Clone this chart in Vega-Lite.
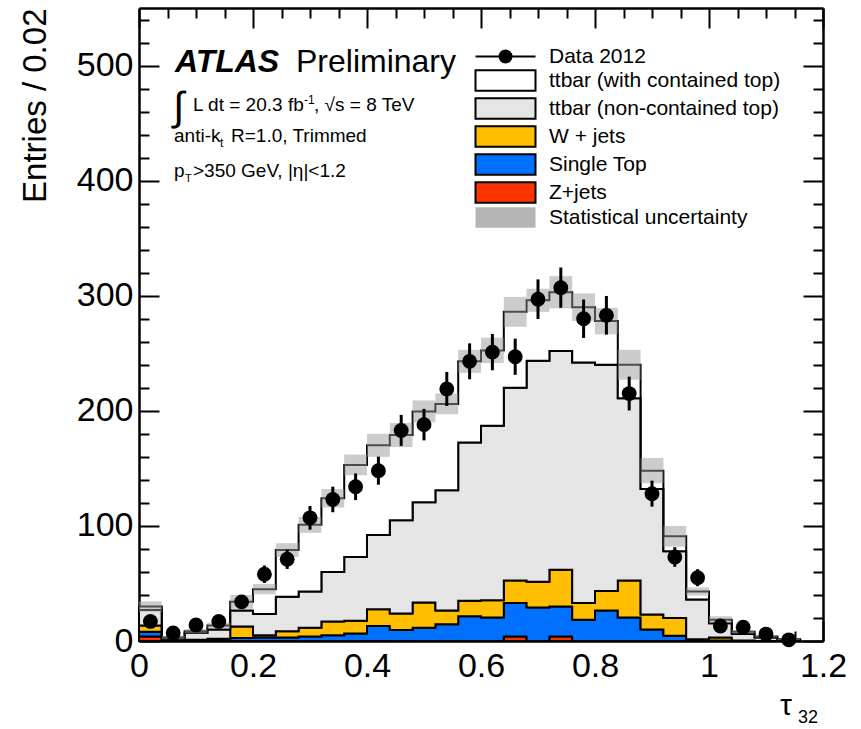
{
  "$schema": "https://vega.github.io/schema/vega-lite/v6.json",
  "width": 684,
  "height": 633,
  "autosize": {"type": "none"},
  "padding": {"left": 139, "top": 8, "right": 38, "bottom": 88},
  "background": "white",
  "config": {
    "font": "Liberation Sans",
    "view": {"stroke": null},
    "axis": {"grid": false, "zindex": 1, "tickColor": "black", "domainColor": "black", "labelColor": "black", "titleColor": "black", "labelFont": "Liberation Sans", "titleFont": "Liberation Sans"}
  },
  "datasets": {
    "comps": [
      {"k": "Z", "name": "Z+jets", "o": 1},
      {"k": "ST", "name": "Single Top", "o": 2},
      {"k": "W", "name": "W + jets", "o": 3},
      {"k": "NC", "name": "ttbar (non-contained top)", "o": 4},
      {"k": "C", "name": "ttbar (with contained top)", "o": 5}
    ],
    "mc": [
      {"x": 0, "Z": 4, "ST": 4, "W": 5.5, "NC": 13.5, "C": 3},
      {"x": 0.04, "Z": 0, "ST": 0.5, "W": 0.5, "NC": 1.5, "C": 0.5},
      {"x": 0.08, "Z": 0, "ST": 0.5, "W": 0.5, "NC": 6, "C": 1.5},
      {"x": 0.12, "Z": 0, "ST": 1, "W": 1, "NC": 8, "C": 3.5},
      {"x": 0.16, "Z": 0, "ST": 2.5, "W": 10, "NC": 14, "C": 7.5},
      {"x": 0.2, "Z": 0, "ST": 3, "W": 2, "NC": 18.5, "C": 21.5},
      {"x": 0.24, "Z": 0, "ST": 3, "W": 5.5, "NC": 30, "C": 40.5},
      {"x": 0.28, "Z": 0, "ST": 4, "W": 7.5, "NC": 31.5, "C": 58},
      {"x": 0.32, "Z": 0, "ST": 5, "W": 12, "NC": 43, "C": 64},
      {"x": 0.36, "Z": 0, "ST": 6.5, "W": 11, "NC": 55.5, "C": 80},
      {"x": 0.4, "Z": 0, "ST": 13, "W": 14.5, "NC": 64.5, "C": 78},
      {"x": 0.44, "Z": 0, "ST": 9.5, "W": 14.5, "NC": 81, "C": 74},
      {"x": 0.48, "Z": 0, "ST": 11.5, "W": 22, "NC": 87, "C": 79},
      {"x": 0.52, "Z": 0, "ST": 14.5, "W": 12, "NC": 104.5, "C": 75},
      {"x": 0.56, "Z": 0, "ST": 21.5, "W": 13.5, "NC": 137.5, "C": 70.5},
      {"x": 0.6, "Z": 0, "ST": 20.5, "W": 15, "NC": 151.5, "C": 65.5},
      {"x": 0.64, "Z": 4, "ST": 29, "W": 19.5, "NC": 167.5, "C": 66},
      {"x": 0.68, "Z": 0, "ST": 29, "W": 22.5, "NC": 192, "C": 52.5},
      {"x": 0.72, "Z": 4, "ST": 26, "W": 32, "NC": 190, "C": 51},
      {"x": 0.76, "Z": 0, "ST": 18.5, "W": 14.5, "NC": 209, "C": 48},
      {"x": 0.8, "Z": 0, "ST": 26.5, "W": 17, "NC": 196.5, "C": 38},
      {"x": 0.84, "Z": 0, "ST": 20.5, "W": 32, "NC": 158.5, "C": 29},
      {"x": 0.88, "Z": 0, "ST": 10, "W": 13, "NC": 109, "C": 16},
      {"x": 0.92, "Z": 0, "ST": 4.5, "W": 15.5, "NC": 58, "C": 13},
      {"x": 0.96, "Z": 0, "ST": 1, "W": 0.5, "NC": 34.5, "C": 7},
      {"x": 1, "Z": 0, "ST": 0.5, "W": 2.5, "NC": 12.5, "C": 3},
      {"x": 1.04, "Z": 0, "ST": 0, "W": 0.5, "NC": 5.5, "C": 2},
      {"x": 1.08, "Z": 0, "ST": 0, "W": 0, "NC": 3, "C": 1},
      {"x": 1.12, "Z": 0, "ST": 0, "W": 0, "NC": 1, "C": 0.5},
      {"x": 1.16, "Z": 0, "ST": 0, "W": 0, "NC": 0, "C": 0}
    ],
    "unc": [
      {"x0": 0, "x1": 0.04, "lo": 25.5, "hi": 34.5},
      {"x0": 0.04, "x1": 0.08, "lo": 1.5, "hi": 4.5},
      {"x0": 0.08, "x1": 0.12, "lo": 6.5, "hi": 10.5},
      {"x0": 0.12, "x1": 0.16, "lo": 11, "hi": 16},
      {"x0": 0.16, "x1": 0.2, "lo": 28, "hi": 40},
      {"x0": 0.2, "x1": 0.24, "lo": 40.5, "hi": 49.5},
      {"x0": 0.24, "x1": 0.28, "lo": 73, "hi": 85},
      {"x0": 0.28, "x1": 0.32, "lo": 94, "hi": 108},
      {"x0": 0.32, "x1": 0.36, "lo": 116, "hi": 132},
      {"x0": 0.36, "x1": 0.4, "lo": 144, "hi": 162},
      {"x0": 0.4, "x1": 0.44, "lo": 160, "hi": 180},
      {"x0": 0.44, "x1": 0.48, "lo": 168.5, "hi": 189.5},
      {"x0": 0.48, "x1": 0.52, "lo": 190, "hi": 209},
      {"x0": 0.52, "x1": 0.56, "lo": 197, "hi": 215},
      {"x0": 0.56, "x1": 0.6, "lo": 233, "hi": 253},
      {"x0": 0.6, "x1": 0.64, "lo": 241.5, "hi": 263.5},
      {"x0": 0.64, "x1": 0.68, "lo": 273, "hi": 299},
      {"x0": 0.68, "x1": 0.72, "lo": 286, "hi": 306},
      {"x0": 0.72, "x1": 0.76, "lo": 289, "hi": 317},
      {"x0": 0.76, "x1": 0.8, "lo": 278, "hi": 302},
      {"x0": 0.8, "x1": 0.84, "lo": 266.5, "hi": 289.5},
      {"x0": 0.84, "x1": 0.88, "lo": 227, "hi": 253},
      {"x0": 0.88, "x1": 0.92, "lo": 137, "hi": 159},
      {"x0": 0.92, "x1": 0.96, "lo": 82, "hi": 100},
      {"x0": 0.96, "x1": 1, "lo": 39.5, "hi": 46.5},
      {"x0": 1, "x1": 1.04, "lo": 15.5, "hi": 21.5},
      {"x0": 1.04, "x1": 1.08, "lo": 6.5, "hi": 9.5},
      {"x0": 1.08, "x1": 1.12, "lo": 3, "hi": 5},
      {"x0": 1.12, "x1": 1.16, "lo": 0.8, "hi": 2.2}
    ],
    "obs": [
      {"xc": 0.02, "n": 17, "lo": 12.9, "hi": 21.1},
      {"xc": 0.06, "n": 7, "lo": 4.4, "hi": 9.6},
      {"xc": 0.1, "n": 14, "lo": 10.3, "hi": 17.7},
      {"xc": 0.14, "n": 17, "lo": 12.9, "hi": 21.1},
      {"xc": 0.18, "n": 34, "lo": 28.2, "hi": 39.8},
      {"xc": 0.22, "n": 58, "lo": 50.4, "hi": 65.6},
      {"xc": 0.26, "n": 71, "lo": 62.6, "hi": 79.4},
      {"xc": 0.3, "n": 107, "lo": 96.7, "hi": 117.3},
      {"xc": 0.34, "n": 123, "lo": 111.9, "hi": 134.1},
      {"xc": 0.38, "n": 134, "lo": 122.4, "hi": 145.6},
      {"xc": 0.42, "n": 148, "lo": 135.8, "hi": 160.2},
      {"xc": 0.46, "n": 183, "lo": 169.5, "hi": 196.5},
      {"xc": 0.5, "n": 188, "lo": 174.3, "hi": 201.7},
      {"xc": 0.54, "n": 219, "lo": 204.2, "hi": 233.8},
      {"xc": 0.58, "n": 243, "lo": 227.4, "hi": 258.6},
      {"xc": 0.62, "n": 251, "lo": 235.2, "hi": 266.8},
      {"xc": 0.66, "n": 247, "lo": 231.3, "hi": 262.7},
      {"xc": 0.7, "n": 297, "lo": 279.8, "hi": 314.2},
      {"xc": 0.74, "n": 307, "lo": 289.5, "hi": 324.5},
      {"xc": 0.78, "n": 280, "lo": 263.3, "hi": 296.7},
      {"xc": 0.82, "n": 283, "lo": 266.2, "hi": 299.8},
      {"xc": 0.86, "n": 215, "lo": 200.3, "hi": 229.7},
      {"xc": 0.9, "n": 128, "lo": 116.7, "hi": 139.3},
      {"xc": 0.94, "n": 73, "lo": 64.5, "hi": 81.5},
      {"xc": 0.98, "n": 55, "lo": 47.6, "hi": 62.4},
      {"xc": 1.02, "n": 13, "lo": 9.4, "hi": 16.6},
      {"xc": 1.06, "n": 12, "lo": 8.5, "hi": 15.5},
      {"xc": 1.1, "n": 6, "lo": 3.6, "hi": 8.4},
      {"xc": 1.14, "n": 1, "lo": 0, "hi": 2}
    ]
  },
  "resolve": {"axis": {"x": "independent", "y": "independent"}},
  "layer": [
    {
      "data": {"name": "mc"},
      "transform": [
        {"fold": ["Z", "ST", "W", "NC", "C"], "as": ["k", "v"]},
        {"lookup": "k", "from": {"data": {"name": "comps"}, "key": "k", "fields": ["name", "o"]}}
      ],
      "mark": {"type": "area", "interpolate": "step-after", "stroke": "black", "strokeWidth": 2, "opacity": 1},
      "encoding": {
        "x": {
          "field": "x", "type": "quantitative",
          "scale": {"domain": [0, 1.2], "nice": false, "zero": false},
          "axis": {"orient": "bottom", "values": [0, 0.2, 0.4, 0.6, 0.8, 1, 1.2], "format": "~g", "tickSize": -20, "tickWidth": 2, "labelFontSize": 34, "labelPadding": 28, "labelFlush": false, "labelOverlap": false, "labelBound": false, "domain": true, "domainWidth": 2.5, "title": null}
        },
        "y": {
          "field": "v", "type": "quantitative", "stack": "zero",
          "scale": {"domain": [0, 550], "nice": false},
          "axis": {"orient": "left", "values": [0, 100, 200, 300, 400, 500], "tickSize": -20, "tickWidth": 2, "labelFontSize": 34, "labelPadding": 26, "labelOverlap": false, "labelBound": false, "domain": true, "domainWidth": 2.5, "title": "Entries / 0.02", "titleFontSize": 33, "titleFontWeight": "normal", "titleAngle": 270, "titleX": -94, "titleY": 0, "titleAlign": "right", "titleBaseline": "alphabetic"}
        },
        "fill": {
          "field": "name", "type": "nominal",
          "scale": {
            "domain": ["Data 2012", "ttbar (with contained top)", "ttbar (non-contained top)", "W + jets", "Single Top", "Z+jets", "Statistical uncertainty"],
            "range": ["black", "white", "#e5e5e5", "#ffbf00", "#0070ff", "#ff3300", "#b5b5b5"]
          },
          "legend": {
            "orient": "none", "legendX": 338, "legendY": 38, "title": null, "padding": 0,
            "labelFontSize": 21, "labelFont": "Liberation Sans", "labelColor": "black", "labelLimit": 0, "labelOffset": 33,
            "symbolSize": 3600, "symbolType": "M-1,-0.34H1V0.34H-1Z", "symbolStrokeColor": "black", "symbolStrokeWidth": 2, "symbolOpacity": 1, "symbolOffset": 18,
            "rowPadding": -1,
            "encode": {
              "symbols": {
                "update": {
                  "shape": {"signal": "datum.label == 'Data 2012' ? 'M-1,0H1M0.2,0A0.2,0.2,0,1,1,-0.2,0A0.2,0.2,0,1,1,0.2,0Z' : 'M-1,-0.34H1V0.34H-1Z'"},
                  "strokeWidth": {"signal": "datum.label == 'Statistical uncertainty' ? 0 : 2"}
                }
              }
            }
          }
        },
        "order": {"field": "o", "type": "quantitative"}
      }
    },
    {
      "data": {"name": "unc"},
      "mark": {"type": "rect", "fill": "#999999", "opacity": 0.5},
      "encoding": {
        "x": {"field": "x0", "type": "quantitative", "axis": {"orient": "bottom", "values": [0.05, 0.1, 0.15, 0.25, 0.3, 0.35, 0.45, 0.5, 0.55, 0.65, 0.7, 0.75, 0.85, 0.9, 0.95, 1.05, 1.1, 1.15], "tickSize": -10, "tickWidth": 2, "labels": false, "domain": false, "title": null}},
        "x2": {"field": "x1"},
        "y": {"field": "lo", "type": "quantitative", "axis": {"orient": "left", "values": [20, 40, 60, 80, 120, 140, 160, 180, 220, 240, 260, 280, 320, 340, 360, 380, 420, 440, 460, 480, 520, 540], "tickSize": -10, "tickWidth": 2, "labels": false, "domain": false, "title": null}},
        "y2": {"field": "hi"}
      }
    },
    {
      "data": {"name": "obs"},
      "mark": {"type": "rule", "color": "black", "strokeWidth": 3},
      "encoding": {
        "x": {"field": "xc", "type": "quantitative", "axis": {"orient": "top", "values": [0, 0.2, 0.4, 0.6, 0.8, 1, 1.2], "tickSize": -20, "tickWidth": 2, "labels": false, "domain": true, "domainWidth": 2.5, "title": null}},
        "y": {"field": "lo", "type": "quantitative", "axis": {"orient": "right", "values": [0, 100, 200, 300, 400, 500], "tickSize": -20, "tickWidth": 2, "labels": false, "domain": true, "domainWidth": 2.5, "title": null}},
        "y2": {"field": "hi"}
      }
    },
    {
      "data": {"name": "obs"},
      "mark": {"type": "point", "filled": true, "shape": "circle", "size": 220, "color": "black", "opacity": 1},
      "encoding": {
        "x": {"field": "xc", "type": "quantitative", "axis": {"orient": "top", "values": [0.05, 0.1, 0.15, 0.25, 0.3, 0.35, 0.45, 0.5, 0.55, 0.65, 0.7, 0.75, 0.85, 0.9, 0.95, 1.05, 1.1, 1.15], "tickSize": -10, "tickWidth": 2, "labels": false, "domain": false, "title": null}},
        "y": {"field": "n", "type": "quantitative", "axis": {"orient": "right", "values": [20, 40, 60, 80, 120, 140, 160, 180, 220, 240, 260, 280, 320, 340, 360, 380, 420, 440, 460, 480, 520, 540], "tickSize": -10, "tickWidth": 2, "labels": false, "domain": false, "title": null}}
      }
    },
    {
      "data": {"values": [{}]},
      "mark": {"type": "text", "text": "ATLAS", "align": "left", "baseline": "alphabetic", "font": "Liberation Sans", "fontSize": 32, "fontWeight": "bold", "fontStyle": "italic", "color": "black"},
      "encoding": {"x": {"datum": 0.063, "type": "quantitative", "axis": null}, "y": {"datum": 494, "type": "quantitative", "axis": null}}
    },
    {
      "data": {"values": [{}]},
      "mark": {"type": "text", "text": "Preliminary", "align": "left", "baseline": "alphabetic", "font": "Liberation Sans", "fontSize": 32, "color": "black"},
      "encoding": {"x": {"datum": 0.2754, "type": "quantitative", "axis": null}, "y": {"datum": 494, "type": "quantitative", "axis": null}}
    },
    {
      "data": {"values": [{}]},
      "mark": {"type": "text", "text": "∫", "align": "left", "baseline": "alphabetic", "font": "Liberation Sans", "fontSize": 40, "color": "black"},
      "encoding": {"x": {"datum": 0.0596, "type": "quantitative", "axis": null}, "y": {"datum": 453, "type": "quantitative", "axis": null}}
    },
    {
      "data": {"values": [{}]},
      "mark": {"type": "text", "text": "L dt = 20.3 fb", "align": "left", "baseline": "alphabetic", "font": "Liberation Sans", "fontSize": 19, "color": "black"},
      "encoding": {"x": {"datum": 0.0947, "type": "quantitative", "axis": null}, "y": {"datum": 460.9, "type": "quantitative", "axis": null}}
    },
    {
      "data": {"values": [{}]},
      "mark": {"type": "text", "text": "-1", "align": "left", "baseline": "alphabetic", "font": "Liberation Sans", "fontSize": 12, "color": "black"},
      "encoding": {"x": {"datum": 0.2895, "type": "quantitative", "axis": null}, "y": {"datum": 467, "type": "quantitative", "axis": null}}
    },
    {
      "data": {"values": [{}]},
      "mark": {"type": "text", "text": ",  √s = 8 TeV", "align": "left", "baseline": "alphabetic", "font": "Liberation Sans", "fontSize": 19, "color": "black"},
      "encoding": {"x": {"datum": 0.307, "type": "quantitative", "axis": null}, "y": {"datum": 460.9, "type": "quantitative", "axis": null}}
    },
    {
      "data": {"values": [{}]},
      "mark": {"type": "text", "text": "anti-k", "align": "left", "baseline": "alphabetic", "font": "Liberation Sans", "fontSize": 19, "color": "black"},
      "encoding": {"x": {"datum": 0.0614, "type": "quantitative", "axis": null}, "y": {"datum": 433.5, "type": "quantitative", "axis": null}}
    },
    {
      "data": {"values": [{}]},
      "mark": {"type": "text", "text": "t", "align": "left", "baseline": "alphabetic", "font": "Liberation Sans", "fontSize": 12, "color": "black"},
      "encoding": {"x": {"datum": 0.142, "type": "quantitative", "axis": null}, "y": {"datum": 429.1, "type": "quantitative", "axis": null}}
    },
    {
      "data": {"values": [{}]},
      "mark": {"type": "text", "text": "R=1.0, Trimmed", "align": "left", "baseline": "alphabetic", "font": "Liberation Sans", "fontSize": 19, "color": "black"},
      "encoding": {"x": {"datum": 0.1614, "type": "quantitative", "axis": null}, "y": {"datum": 433.5, "type": "quantitative", "axis": null}}
    },
    {
      "data": {"values": [{}]},
      "mark": {"type": "text", "text": "p", "align": "left", "baseline": "alphabetic", "font": "Liberation Sans", "fontSize": 19, "color": "black"},
      "encoding": {"x": {"datum": 0.0614, "type": "quantitative", "axis": null}, "y": {"datum": 403.5, "type": "quantitative", "axis": null}}
    },
    {
      "data": {"values": [{}]},
      "mark": {"type": "text", "text": "T", "align": "left", "baseline": "alphabetic", "font": "Liberation Sans", "fontSize": 11, "color": "black"},
      "encoding": {"x": {"datum": 0.0807, "type": "quantitative", "axis": null}, "y": {"datum": 398.6, "type": "quantitative", "axis": null}}
    },
    {
      "data": {"values": [{}]},
      "mark": {"type": "text", "text": ">350 GeV, |η|<1.2", "align": "left", "baseline": "alphabetic", "font": "Liberation Sans", "fontSize": 19, "color": "black"},
      "encoding": {"x": {"datum": 0.0947, "type": "quantitative", "axis": null}, "y": {"datum": 403.5, "type": "quantitative", "axis": null}}
    },
    {
      "data": {"values": [{}]},
      "mark": {"type": "text", "text": "τ", "align": "left", "baseline": "alphabetic", "font": "Liberation Sans", "fontSize": 30, "color": "black"},
      "encoding": {"x": {"datum": 1.1246, "type": "quantitative", "axis": null}, "y": {"datum": -64.3, "type": "quantitative", "axis": null}}
    },
    {
      "data": {"values": [{}]},
      "mark": {"type": "text", "text": "32", "align": "left", "baseline": "alphabetic", "font": "Liberation Sans", "fontSize": 18, "color": "black"},
      "encoding": {"x": {"datum": 1.156, "type": "quantitative", "axis": null}, "y": {"datum": -71.3, "type": "quantitative", "axis": null}}
    }
  ]
}
